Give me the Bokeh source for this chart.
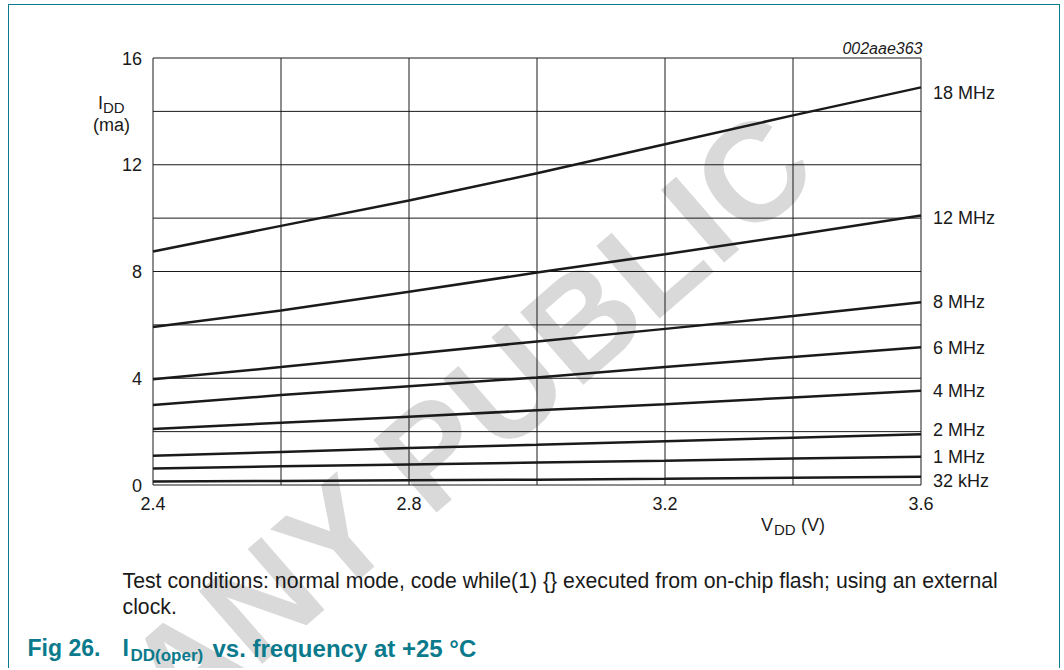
from bokeh.plotting import figure
from bokeh.models import Label, FixedTicker, Range1d
from bokeh.embed import file_html
from bokeh.resources import INLINE

# ---------------- data ----------------
vdd = [2.4, 2.6, 2.8, 3.0, 3.2, 3.4, 3.6]
i_18mhz = [8.75, 9.71, 10.66, 11.68, 12.77, 13.85, 14.90]
i_12mhz = [5.92, 6.54, 7.24, 7.96, 8.65, 9.36, 10.10]
i_8mhz = [3.96, 4.42, 4.90, 5.38, 5.85, 6.33, 6.85]
i_6mhz = [3.00, 3.37, 3.70, 4.03, 4.42, 4.80, 5.16]
i_4mhz = [2.10, 2.33, 2.56, 2.80, 3.03, 3.28, 3.53]
i_2mhz = [1.10, 1.24, 1.39, 1.51, 1.64, 1.77, 1.90]
i_1mhz = [0.62, 0.70, 0.77, 0.84, 0.91, 0.99, 1.06]
i_32khz = [0.13, 0.15, 0.18, 0.20, 0.23, 0.27, 0.31]

series = [i_18mhz, i_12mhz, i_8mhz, i_6mhz, i_4mhz, i_2mhz, i_1mhz, i_32khz]
series_names = ["18 MHz", "12 MHz", "8 MHz", "6 MHz", "4 MHz", "2 MHz", "1 MHz", "32 kHz"]

x_tick_values = [2.4, 2.8, 3.2, 3.6]
y_tick_values = [0, 4, 8, 12, 16]
x_grid_values = [2.4, 2.6, 2.8, 3.0, 3.2, 3.4, 3.6]
y_grid_values = [0, 2, 4, 6, 8, 10, 12, 14, 16]
x_lo, x_hi = 2.4, 3.6
y_lo, y_hi = 0, 16

# ---------------- layout / style ----------------
FONT = "Liberation Sans"
INK = "#1a1a1a"
TEAL = "#0a7a8c"
OX, OY = 9, 5          # page position of the canvas origin
W, H = 1052, 664
# plot-area edges in page pixels (left, right, top, bottom)
FL, FR, FT, FB = 152.5, 920.5, 57.5, 484.5
PPX = (FR - FL) / (x_hi - x_lo)   # px per volt
PPY = (FB - FT) / (y_hi - y_lo)   # px per mA
# label vertical nudges (screen px, + = down) relative to the curve end
label_nudge_px = [6, 3, 0, 1, 0, -4, 0, 4]

# the frame fills the whole canvas; ranges are widened so that the
# plot area lands where the reference has it
x_range = Range1d(x_lo - (FL - OX) / PPX, x_hi + (OX + W - FR) / PPX)
y_range = Range1d(y_lo - (OY + H - FB) / PPY, y_hi + (FT - OY) / PPY)

p = figure(width=W, height=H, x_range=x_range, y_range=y_range,
           output_backend="svg", toolbar_location=None,
           min_border=0, min_border_left=0, min_border_right=0,
           min_border_top=0, min_border_bottom=0)
p.title.visible = False
p.styles = {"margin-left": "8px", "margin-top": "4px",
            "border-left": "1px solid " + TEAL,
            "border-top": "1px solid " + TEAL,
            "border-right": "1px solid " + TEAL}

p.background_fill_color = "white"
p.border_fill_color = "white"
p.outline_line_color = None
p.xgrid.visible = False
p.ygrid.visible = False

# axes pinned to the plot-area edges (take no layout space)
p.xaxis.fixed_location = y_lo
p.yaxis.fixed_location = x_lo
p.xaxis.bounds = (x_lo, x_hi)
p.yaxis.bounds = (y_lo, y_hi)
p.xaxis.ticker = FixedTicker(ticks=x_tick_values)
p.yaxis.ticker = FixedTicker(ticks=y_tick_values)
p.axis.axis_line_color = None
p.axis.major_tick_line_color = None
p.axis.minor_tick_line_color = None
p.axis.major_tick_out = 0
p.axis.major_tick_in = 0
p.axis.minor_tick_out = 0
p.axis.minor_tick_in = 0
p.axis.major_label_text_font = FONT
p.axis.major_label_text_font_size = "18px"
p.axis.major_label_text_color = INK
p.xaxis.major_label_standoff = 12
p.yaxis.major_label_standoff = 11


def lab(px, py, text, size="18px", style="normal", color=INK, align="left",
        angle=0, level="annotation"):
    # (px, py): page position of the left/centre/right edge and the cap-height middle
    p.add_layout(Label(x=px - OX, y=py - OY, x_units="canvas", y_units="canvas",
                       text=text, text_font=FONT, text_font_size=size,
                       text_font_style=style, text_color=color, text_align=align,
                       text_baseline="middle", angle=angle, angle_units="deg",
                       level=level))


# watermark (under everything)
lab(314, 552, "COMPANY PUBLIC", size="140px", style="bold", color="#d9d9d9",
    align="center", angle=41, level="image")

# grid
p.segment(x0=x_grid_values, x1=x_grid_values,
          y0=[y_lo] * len(x_grid_values), y1=[y_hi] * len(x_grid_values),
          line_color=INK, line_width=1)
p.segment(x0=[x_lo] * len(y_grid_values), x1=[x_hi] * len(y_grid_values),
          y0=y_grid_values, y1=y_grid_values,
          line_color=INK, line_width=1)

# curves
for vals in series:
    p.line(vdd, vals, line_width=2.5, line_color=INK)

# curve labels (just right of each curve's last point)
for vals, name, nudge in zip(series, series_names, label_nudge_px):
    p.add_layout(Label(x=vdd[-1], y=vals[-1] - nudge / PPY, x_offset=12, text=name,
                       text_font=FONT, text_font_size="18px", text_color=INK,
                       text_align="left", text_baseline="middle"))

# axis titles
lab(96.5, 101, "I")
lab(101.5, 105.5, "DD", size="15px")
lab(110, 123.5, "(ma)", align="center")

lab(759.5, 523.8, "V")
lab(772.5, 528, "DD", size="15px")
lab(799.5, 523.8, "(V)")

lab(921, 47.3, "002aae363", size="16px", style="italic", align="right")

# caption
lab(121, 579.5, "Test conditions: normal mode, code while(1) {} executed from on-chip flash; using an external",
    size="21.25px")
lab(121, 605.5, "clock.", size="21.25px")

# figure title
lab(26, 646.5, "Fig 26.", size="23px", style="bold", color=TEAL)
lab(121, 646.5, "I", size="23px", style="bold", color=TEAL)
lab(129, 654, "DD(oper)", size="17px", style="bold", color=TEAL)
lab(211, 647, "vs. frequency at +25 \u00b0C", size="24px", style="bold", color=TEAL)

open("out.html", "w").write(file_html(p, INLINE))
